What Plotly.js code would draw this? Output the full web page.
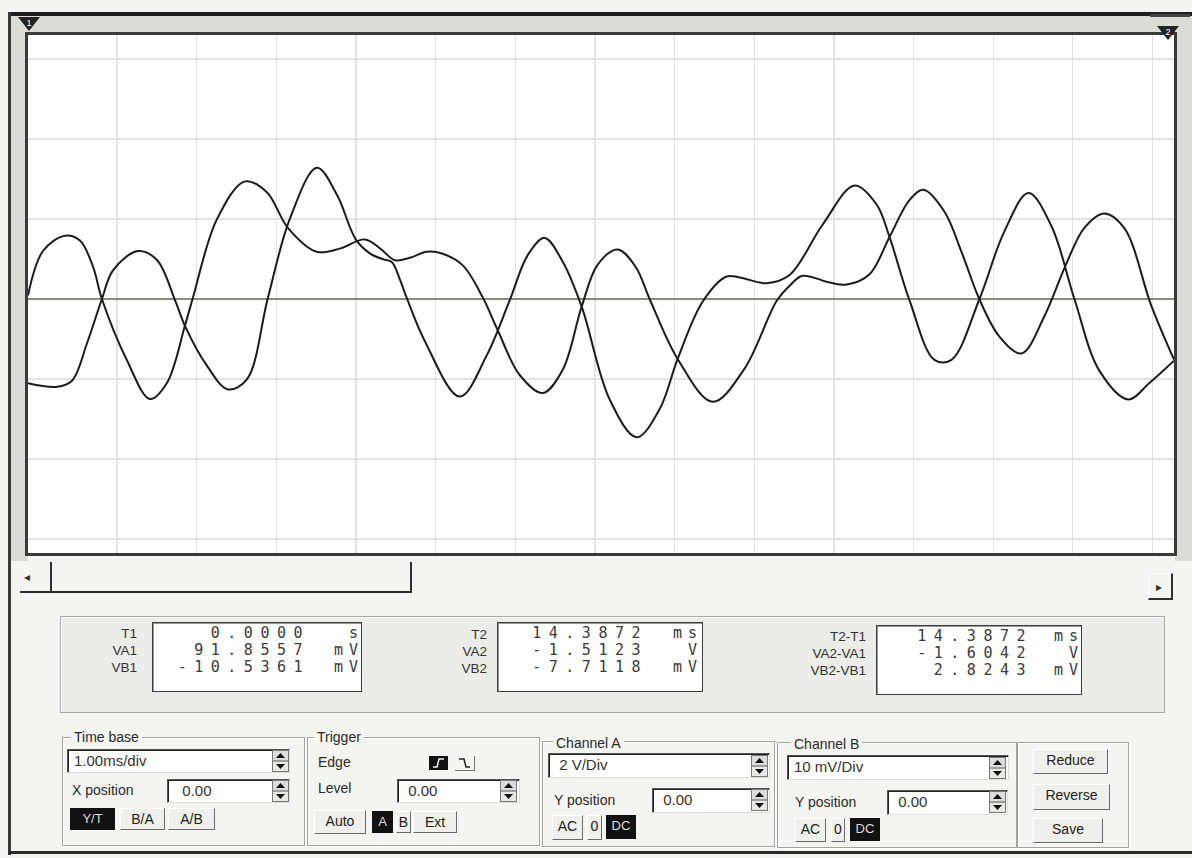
<!DOCTYPE html>
<html><head><meta charset="utf-8">
<script src="https://cdn.plot.ly/plotly-3.0.1.min.js"></script>
<style>
html,body{margin:0;padding:0;background:#f4f4f1;}
#root{position:relative;width:1192px;height:858px;overflow:hidden;font-family:"Liberation Sans",Arial,sans-serif;color:#2a2a2a;background:#f4f4f1;}
#plot{position:absolute;left:0;top:0;width:1192px;height:858px;z-index:1;}
.a{position:absolute;}
.ui{z-index:2;}
.bg{z-index:0;}
</style></head><body><div id="root"><div id="plot"></div></div>
<script>
// ---- Channel A trace (time in ms, volts) ----
const tA=[0,0.188,0.464,0.652,0.816,0.928,1.242,1.531,1.744,1.970,2.070,2.371,2.723,2.999,3.262,3.626,3.915,4.228,4.417,4.605,4.793,5.006,5.207,5.458,5.709,5.897,6.173,6.462,6.713,6.951,7.152,7.403,7.629,7.804,8.156,8.595,8.996,9.398,9.561,9.724,10.063,10.276,10.565,10.816,11.066,11.242,11.506,11.719,11.945,12.196,12.472,12.760,13.024,13.262,13.513,13.764,14.103,14.3872];
const vA=[0.0919,1.20,1.58,1.46,0.81,0.0,-1.53,-2.50,-2.10,-0.67,0.03,1.99,2.94,2.67,1.78,1.18,1.26,1.49,1.27,0.97,1.03,1.18,1.13,0.84,0.04,-0.78,-1.90,-2.35,-1.77,-0.19,0.86,1.24,0.80,0.0,-1.50,-2.57,-1.74,-0.05,0.33,0.58,0.41,0.36,0.62,1.55,2.47,2.73,2.18,1.18,-0.01,-0.94,-1.36,-0.43,0.83,1.78,2.14,1.77,-0.17,-1.5123];
// ---- Channel B trace (time in ms, millivolts) ----
const tB=[0,0.364,0.552,0.740,0.928,1.067,1.380,1.619,1.844,1.970,2.246,2.509,2.748,3.011,3.287,3.626,3.877,4.115,4.291,4.454,4.567,4.667,4.755,4.981,5.420,5.759,6.048,6.274,6.487,6.713,6.951,7.302,7.641,7.930,8.156,8.469,8.770,8.933,9.272,9.561,9.975,10.376,10.652,10.816,11.066,11.380,11.593,11.945,12.258,12.560,12.848,13.137,13.450,13.814,14.078,14.3872];
const vB=[-10.5361,-10.98,-10.21,-5.56,0,3.59,5.99,4.88,-0.10,-3.35,-8.33,-11.30,-10.04,0.11,10.01,16.41,13.05,7.45,5.71,4.98,4.61,2.49,0.13,-5.24,-12.20,-7.05,-0.15,5.49,7.64,4.65,-0.96,-12.55,-17.28,-13.75,-7.49,-0.34,2.81,2.70,1.98,3.00,9.28,14.19,11.84,7.73,-0.14,-7.60,-7.60,0,8.46,13.24,9.13,0,-8.95,-12.55,-10.50,-7.7118];
// ---- Readouts ----
const lab1=['T1','VA1','VB1'], val1=['0.0000','91.8557','-10.5361'], unit1=['s','mV','mV'];
const lab2=['T2','VA2','VB2'], val2=['14.3872','-1.5123','-7.7118'], unit2=['ms','V','mV'];
const lab3=['T2-T1','VA2-VA1','VB2-VB1'], val3=['14.3872','-1.6042','2.8243'], unit3=['ms','V','mV'];
const timeBase='1.00ms/div', chA='2 V/Div', chB='10 mV/Div', posVal='0.00';

const tEnd=tA[tA.length-1];
const gridStart=1.117; // first screen grid division after the left edge (ms)
const gridVals=[]; for(let g=gridStart; g<tEnd; g+=1) gridVals.push(+g.toFixed(3));
const ln={color:'#1c1c1c',width:2,shape:'spline',smoothing:1};
Plotly.newPlot('plot',[
 {x:tA,y:vA,type:'scatter',mode:'lines',line:ln,yaxis:'y',hoverinfo:'skip',name:'Channel A'},
 {x:tB,y:vB,type:'scatter',mode:'lines',line:ln,yaxis:'y2',hoverinfo:'skip',name:'Channel B'}
],{
 width:1192,height:858,margin:{l:28,r:18,t:35,b:305,pad:0},
 paper_bgcolor:'rgba(0,0,0,0)',plot_bgcolor:'#ffffff',showlegend:false,
 xaxis:{range:[0,tEnd],tickmode:'array',tickvals:gridVals,showticklabels:false,ticks:'',showgrid:true,gridcolor:'#e2e2e2',gridwidth:1.3,zeroline:false,showline:true,linecolor:'#3a3a3a',linewidth:3,mirror:true,fixedrange:true},
 yaxis:{range:[-6.35,6.6],tick0:0,dtick:2,showticklabels:false,ticks:'',showgrid:true,gridcolor:'#e2e2e2',gridwidth:1.3,zeroline:true,zerolinecolor:'#8a8a7e',zerolinewidth:1.5,showline:true,linecolor:'#3a3a3a',linewidth:3,mirror:true,fixedrange:true},
 yaxis2:{range:[-31.75,33],overlaying:'y',visible:false,showgrid:false,zeroline:false,fixedrange:true}
},{displayModeBar:false,staticPlot:true});

const root=document.getElementById('root');
function box(x,y,w,h,css,html,cls){const d=document.createElement('div');d.className='a '+(cls||'ui');d.style.cssText=`left:${x}px;top:${y}px;width:${w}px;height:${h}px;box-sizing:border-box;`+(css||'');if(html!==undefined)d.innerHTML=html;root.appendChild(d);return d;}
function txt(x,y,s,css){const d=document.createElement('div');d.className='a ui';d.style.cssText=`left:${x}px;top:${y}px;white-space:nowrap;font-size:14px;line-height:16px;`+(css||'');d.textContent=s;root.appendChild(d);return d;}
function rtxt(xr,y,s,css){const d=document.createElement('div');d.className='a ui';d.style.cssText=`right:${1192-xr}px;top:${y}px;white-space:nowrap;font-size:13px;line-height:17px;text-align:right;`+(css||'');d.textContent=s;root.appendChild(d);return d;}

// frame bands (behind plot)
box(10,16,1182,20,'background:#dcdcd7;',undefined,'bg');
box(10,16,18,545,'background:#dcdcd7;',undefined,'bg');
box(1175,16,17,545,'background:#dcdcd7;',undefined,'bg');
box(8,12,1184,4,'background:#1e1e1e;',undefined,'bg');
box(8,12,3,843,'background:#3a3a3a;',undefined,'bg');
box(8,851,1184,3,'background:#2a2a2a;',undefined,'bg');
// cursor markers
box(17,16,24,16,'',`<svg width="24" height="16"><path d="M1 1 L23 1 L12 15 Z" fill="#222"/><text x="12" y="10" font-size="9" fill="#fff" text-anchor="middle" font-family="Liberation Sans">1</text></svg>`);
box(1156,25,24,16,'',`<svg width="24" height="16"><path d="M1 1 L23 1 L12 15 Z" fill="#222"/><text x="12" y="10" font-size="9" fill="#fff" text-anchor="middle" font-family="Liberation Sans">2</text></svg>`);
box(1150,14,40,3,'background:#444;');

// scrollbar
box(20,562,392,31,'border-bottom:2px solid #2e2e2e;border-right:2px solid #2e2e2e;');
box(50,562,2,29,'background:#2e2e2e;');
txt(24,569,'◂','font-size:12px;color:#333;');
box(1148,573,25,27,'border-right:2px solid #2e2e2e;border-bottom:2px solid #2e2e2e;border-top:1px solid #fff;border-left:1px solid #fff;');
txt(1156,579,'▸','font-size:12px;color:#333;');

// readout panel
box(60,616,1105,97,'background:#ecece9;border:1px solid #a8a8a4;box-shadow:1px 1px 0 #fff inset;');
const sunk='background:#fff;border:1px solid #3c3c3c;box-shadow:inset 1px 1px 0 #9a9a9a;';
const mono='font-family:"DejaVu Sans Mono",monospace;font-size:15px;color:#3a3a3a;';
function readout(bx,by,bw,labR,labTop,vR,uR,labs,vals,units){
  box(bx,by,bw,70,sunk);
  for(let i=0;i<3;i++){
    rtxt(labR,labTop+i*17,labs[i],'color:#333;font-size:13.5px;');
    rtxt(vR,by+3+i*17,vals[i],mono+'letter-spacing:7.5px;');
    rtxt(uR,by+3+i*17,units[i],mono+'letter-spacing:6px;');
  }
}
readout(152,622,210,137,625,310,364,lab1,val1,unit1);
readout(497,622,206,487,626,648,703,lab2,val2,unit2);
readout(876,625,206,866,628,1033,1084,lab3,val3,unit3);

// group boxes
const grp='border:1px solid #a2a2a0;box-shadow:1px 1px 0 #fff, inset 1px 1px 0 #fff;';
box(62,737,243,109,grp); box(307,737,233,109,grp); box(542,741,233,106,grp); box(777,742,240,106,grp); box(1017,742,112,106,grp);
const leg='background:#f4f4f1;padding:0 3px;font-size:14px;';
txt(71,729,'Time base',leg); txt(314,729,'Trigger',leg); txt(553,735,'Channel A',leg); txt(791,736,'Channel B',leg);

const raised='background:#efefeb;border-top:1px solid #fff;border-left:1px solid #fff;border-right:1px solid #6a6a6a;border-bottom:1px solid #6a6a6a;text-align:center;font-size:14px;line-height:20px;color:#222;';
const black='background:#111;color:#ddd;text-align:center;font-size:13px;line-height:21px;';
const inp='background:#fff;border-top:1px solid #555;border-left:1px solid #555;border-right:1px solid #ddd;border-bottom:1px solid #ddd;box-shadow:inset 1px 1px 0 #222;font-size:15px;line-height:22px;padding-left:6px;color:#333;';
function spin(x,y,h){
  box(x,y,17,h,'background:#e8e8e4;border:1px solid #777;',`<svg width="15" height="${h-2}"><rect x="0" y="0" width="15" height="${(h-2)/2-0.5}" fill="#ddd"/><path d="M3 ${(h-2)/2-3} L12 ${(h-2)/2-3} L7.5 2 Z" fill="#111"/><path d="M3 ${(h-2)/2+3} L12 ${(h-2)/2+3} L7.5 ${h-4} Z" fill="#111"/><line x1="0" y1="${(h-2)/2}" x2="15" y2="${(h-2)/2}" stroke="#555"/></svg>`);
}
// Time base
box(67,749,223,24,inp,timeBase); spin(272,750,22);
txt(72,782,'X position');
box(167,779,123,24,inp,'&nbsp;&nbsp;'+posVal); spin(272,780,22);
box(70,808,45,22,black,'Y/T'); box(120,808,45,22,raised,'B/A'); box(168,808,47,22,raised,'A/B');
// Trigger
txt(318,754,'Edge');
box(429,756,19,14,'background:#111;',`<svg width="19" height="14"><path d="M4 11 L8 11 L10 3 L15 3" stroke="#eee" stroke-width="1.5" fill="none"/></svg>`);
box(455,756,20,15,'border-right:1px solid #777;border-bottom:1px solid #777;',`<svg width="19" height="14"><path d="M4 3 L9 3 L11 11 L15 11" stroke="#222" stroke-width="1.5" fill="none"/></svg>`);
txt(318,780,'Level');
box(397,779,123,24,inp,'&nbsp;'+posVal); spin(500,780,22);
box(314,810,52,24,raised,'Auto'); box(372,811,21,22,black,'A'); box(396,811,15,22,raised,'B'); box(413,811,44,22,raised,'Ext');
// Channel A
box(548,753,222,25,inp,'&nbsp;'+chA); spin(751,755,22);
txt(554,792,'Y position');
box(652,788,118,25,inp,'&nbsp;'+posVal); spin(751,789,22);
box(552,815,31,25,raised,'AC'); box(587,815,15,25,raised,'0'); box(606,815,30,24,black,'DC');
// Channel B
box(787,755,222,25,inp,chB); spin(989,757,22);
txt(795,794,'Y position');
box(887,790,121,25,inp,'&nbsp;'+posVal); spin(989,791,22);
box(795,818,31,24,raised,'AC'); box(831,818,14,24,raised,'0'); box(850,818,30,23,black,'DC');
// right buttons
box(1033,749,75,25,raised,'Reduce'); box(1033,784,77,26,raised,'Reverse'); box(1033,818,70,25,raised,'Save');
</script></body></html>
